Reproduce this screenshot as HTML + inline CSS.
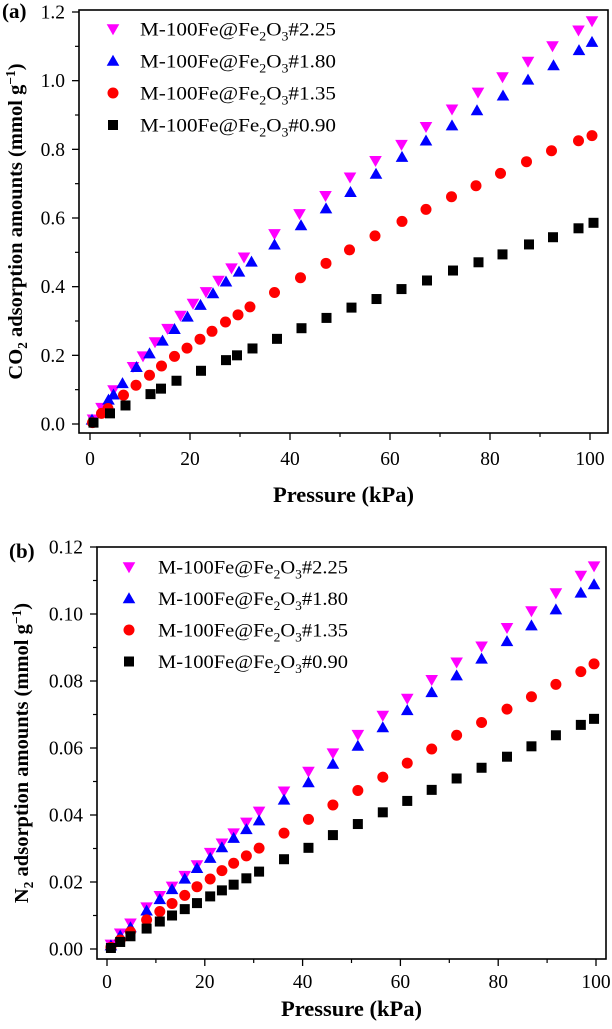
<!DOCTYPE html>
<html><head><meta charset="utf-8"><style>
body{margin:0;background:#fff;width:612px;height:1024px;overflow:hidden}
svg{font-family:"Liberation Serif",serif}
</style></head><body>
<svg id="s" width="612" height="1024"></svg>
<script>
const seriesNames=["M-100Fe@Fe2O3#2.25","M-100Fe@Fe2O3#1.80","M-100Fe@Fe2O3#1.35","M-100Fe@Fe2O3#0.90"];
const xTicks=[0,20,40,60,80,100];
const yTicksA=["0.0","0.2","0.4","0.6","0.8","1.0","1.2"];
const yTicksB=["0.00","0.02","0.04","0.06","0.08","0.10","0.12"];
const aX225=[0.6,2.3,4.7,8.6,10.6,13,15.5,18.1,20.6,23.2,25.7,28.3,30.8,36.9,41.9,47.1,52,57.1,62.3,67.2,72.4,77.6,82.5,87.6,92.5,97.7,100.4];
const aY225=[0.014,0.048,0.099,0.167,0.198,0.239,0.278,0.316,0.351,0.385,0.418,0.454,0.486,0.554,0.612,0.665,0.719,0.767,0.814,0.866,0.917,0.966,1.011,1.056,1.101,1.147,1.174];
const aX180=[0.4,3.7,4.7,6.5,9.3,11.9,14.5,16.9,19.5,22.1,24.6,27.2,29.8,32.3,36.9,42.2,47.2,52.1,57.2,62.4,67.2,72.4,77.4,82.6,87.6,92.7,97.8,100.4];
const aY180=[0.012,0.070,0.085,0.118,0.165,0.205,0.242,0.276,0.312,0.346,0.380,0.414,0.443,0.472,0.522,0.578,0.627,0.675,0.728,0.777,0.825,0.869,0.913,0.956,1.002,1.044,1.088,1.112];
const aX135=[0.5,2.3,3.6,6.7,9.2,11.9,14.3,16.9,19.4,22,24.4,27.1,29.6,32,36.9,42.1,47.2,51.9,57,62.4,67.2,72.3,77.2,82.1,87.3,92.3,97.7,100.4];
const aY135=[0.004,0.031,0.045,0.084,0.113,0.142,0.169,0.197,0.221,0.247,0.270,0.297,0.318,0.341,0.383,0.426,0.468,0.507,0.548,0.590,0.625,0.662,0.694,0.730,0.764,0.796,0.825,0.840];
const aX090=[0.7,4,7.1,12.1,14.2,17.3,22.2,27.2,29.4,32.5,37.4,42.3,47.3,52.3,57.3,62.3,67.4,72.6,77.7,82.5,87.8,92.6,97.7,100.7];
const aY090=[0.004,0.031,0.054,0.087,0.103,0.126,0.155,0.186,0.200,0.220,0.248,0.279,0.309,0.339,0.364,0.393,0.418,0.447,0.471,0.494,0.523,0.544,0.570,0.586];
const bX=[0.8,2.7,4.8,8.1,10.8,13.3,15.9,18.4,21.1,23.5,25.9,28.5,31.1,36.2,41.2,46.2,51.3,56.4,61.4,66.4,71.5,76.6,81.8,86.8,91.8,96.9,99.6];
const bY225=[0.0014,0.0047,0.0077,0.0125,0.0159,0.0187,0.0219,0.0251,0.0288,0.0316,0.0346,0.0378,0.0411,0.0471,0.0530,0.0585,0.0640,0.0697,0.0748,0.0804,0.0856,0.0904,0.0959,0.1009,0.1063,0.1115,0.1143];
const bY180=[0.0010,0.0039,0.0064,0.0114,0.0148,0.0178,0.0209,0.0241,0.0271,0.0303,0.0331,0.0357,0.0383,0.0445,0.0497,0.0552,0.0606,0.0661,0.0712,0.0766,0.0816,0.0866,0.0918,0.0965,0.1013,0.1063,0.1088];
const bY135=[0.0005,0.0027,0.0051,0.0087,0.0112,0.0136,0.0160,0.0186,0.0209,0.0234,0.0256,0.0278,0.0301,0.0346,0.0387,0.0430,0.0473,0.0513,0.0555,0.0597,0.0638,0.0676,0.0716,0.0753,0.0790,0.0828,0.0851];
const bY090=[0.0003,0.0021,0.0038,0.0061,0.0082,0.0100,0.0119,0.0137,0.0157,0.0175,0.0192,0.0211,0.0231,0.0268,0.0302,0.0340,0.0373,0.0408,0.0442,0.0475,0.0509,0.0541,0.0574,0.0605,0.0638,0.0669,0.0687];

const NS="http://www.w3.org/2000/svg";
const svg=document.getElementById('s');
function mk(tag,attrs,parent,text){const e=document.createElementNS(NS,tag);for(const k in attrs)e.setAttribute(k,attrs[k]);if(text!==undefined)e.textContent=text;(parent||svg).appendChild(e);return e;}
const colors=["#ff00ff","#0000ff","#ff0000","#000000"];
const shapes=["tri-down","tri-up","circle","square"];
function marker(g,shape,cx,cy,c){
  let e;
  if(shape==="circle")e=mk('circle',{cx:cx,cy:cy,r:5.5,fill:c},g);
  else if(shape==="square")e=mk('rect',{x:cx-5,y:cy-5,width:10,height:10,fill:c},g);
  else if(shape==="tri-up")e=mk('polygon',{points:`${cx-6.3},${cy+4.7} ${cx+6.3},${cy+4.7} ${cx},${cy-6.3}`,fill:c},g);
  else e=mk('polygon',{points:`${cx-6.3},${cy-4.7} ${cx+6.3},${cy-4.7} ${cx},${cy+6.3}`,fill:c},g);
  return e;
}
function panel(o){
  const g=mk('g',{});
  
  
  const sx=v=>o.x0+(v/100)*(o.x1-o.x0);
  const sy=v=>o.y0-(v/o.ymax)*(o.y0-o.y1);
  const fr=mk('rect',{x:o.L,y:o.T,width:o.R-o.L,height:o.B-o.T,fill:'none',stroke:'#000','stroke-width':1.6},g);
  
  
  xTicks.forEach((t,i)=>{
    const x=sx(t);
    mk('line',{x1:x,x2:x,y1:o.B,y2:o.B+7,stroke:'#000','stroke-width':1.3},g);
    if(i<xTicks.length-1){const xm=sx(t+10);mk('line',{x1:xm,x2:xm,y1:o.B,y2:o.B+4,stroke:'#000','stroke-width':1.2},g);}
    const tl=mk('text',{x:x,y:o.xlY,'text-anchor':'middle','font-size':19.5},g,String(t));
    
    
  });
  o.yLabels.forEach((t,i)=>{
    const v=o.ymax*i/(o.yLabels.length-1);const y=sy(v);
    mk('line',{x1:o.L-7,x2:o.L,y1:y,y2:y,stroke:'#000','stroke-width':1.3},g);
    if(i<o.yLabels.length-1){const ym=sy(v+o.ymax/12);mk('line',{x1:o.L-4,x2:o.L,y1:ym,y2:ym,stroke:'#000','stroke-width':1.2},g);}
    const tl=mk('text',{x:o.L-14,y:y+6.5,'text-anchor':'end','font-size':19.5},g,t);
    
    
  });
  o.series.forEach((s,k)=>{
    const sg=mk('g',{},g);
    
    
    s.xs.forEach((xv,i)=>{
      const m=marker(sg,shapes[k],sx(xv),sy(s.ys[i]),colors[k]);
      
      
    });
  });
  seriesNames.forEach((n,k)=>{
    const lg=mk('g',{},g);
    
    
    const y=o.legY+k*o.legDy;
    marker(lg,shapes[k],o.legX,y,colors[k]);
    const t=mk('text',{x:o.legTX,y:y+6.5,'font-size':19,textLength:o.legW,lengthAdjust:'spacingAndGlyphs'},lg);
    const base=n.split('Fe2O3');
    mk('tspan',{},t,base[0]+'Fe');
    mk('tspan',{'font-size':12.5,dy:5},t,'2');
    mk('tspan',{dy:-5},t,'O');
    mk('tspan',{'font-size':12.5,dy:5},t,'3');
    mk('tspan',{dy:-5},t,base[1]);
  });
  const xt=mk('text',{x:(o.L+o.R)/2,y:o.xtY,'text-anchor':'middle','font-size':22.5,'font-weight':'bold'},g,'Pressure (kPa)');
  
  
  const yt=mk('text',{transform:`translate(${o.ytX},${(o.T+o.B)/2}) rotate(-90)`,'text-anchor':'middle','font-size':20.5,'font-weight':'bold'},g);
  
  
  mk('tspan',{},yt,o.gas);
  mk('tspan',{'font-size':13.5,dy:5},yt,'2');
  mk('tspan',{dy:-5},yt,' adsorption amounts (mmol g');
  mk('tspan',{'font-size':13.5,dy:-7},yt,'−1');
  mk('tspan',{dy:7},yt,')');
  const pl=mk('text',{x:o.plX,y:o.plY,'font-size':21,'font-weight':'bold'},g,o.label);
  
  
}
panel({name:'panel-a-co2',L:79,R:608,T:10,B:433,x0:90,x1:590,y0:424,y1:12,ymax:1.2,yLabels:yTicksA,
  series:[{xs:aX225,ys:aY225},{xs:aX180,ys:aY180},{xs:aX135,ys:aY135},{xs:aX090,ys:aY090}],
  legX:113,legY:29,legDy:32,legTX:140,legW:196,xlY:465,xtY:502,ytX:22,gas:'CO',label:'(a)',plX:2,plY:18});
panel({name:'panel-b-n2',L:97,R:606,T:547,B:959,x0:107,x1:596,y0:949,y1:547,ymax:0.12,yLabels:yTicksB,
  series:[{xs:bX,ys:bY225},{xs:bX,ys:bY180},{xs:bX,ys:bY135},{xs:bX,ys:bY090}],
  legX:129,legY:567,legDy:31.5,legTX:158,legW:190,xlY:988,xtY:1016,ytX:28,gas:'N',label:'(b)',plX:9,plY:558});
</script>
</body></html>
